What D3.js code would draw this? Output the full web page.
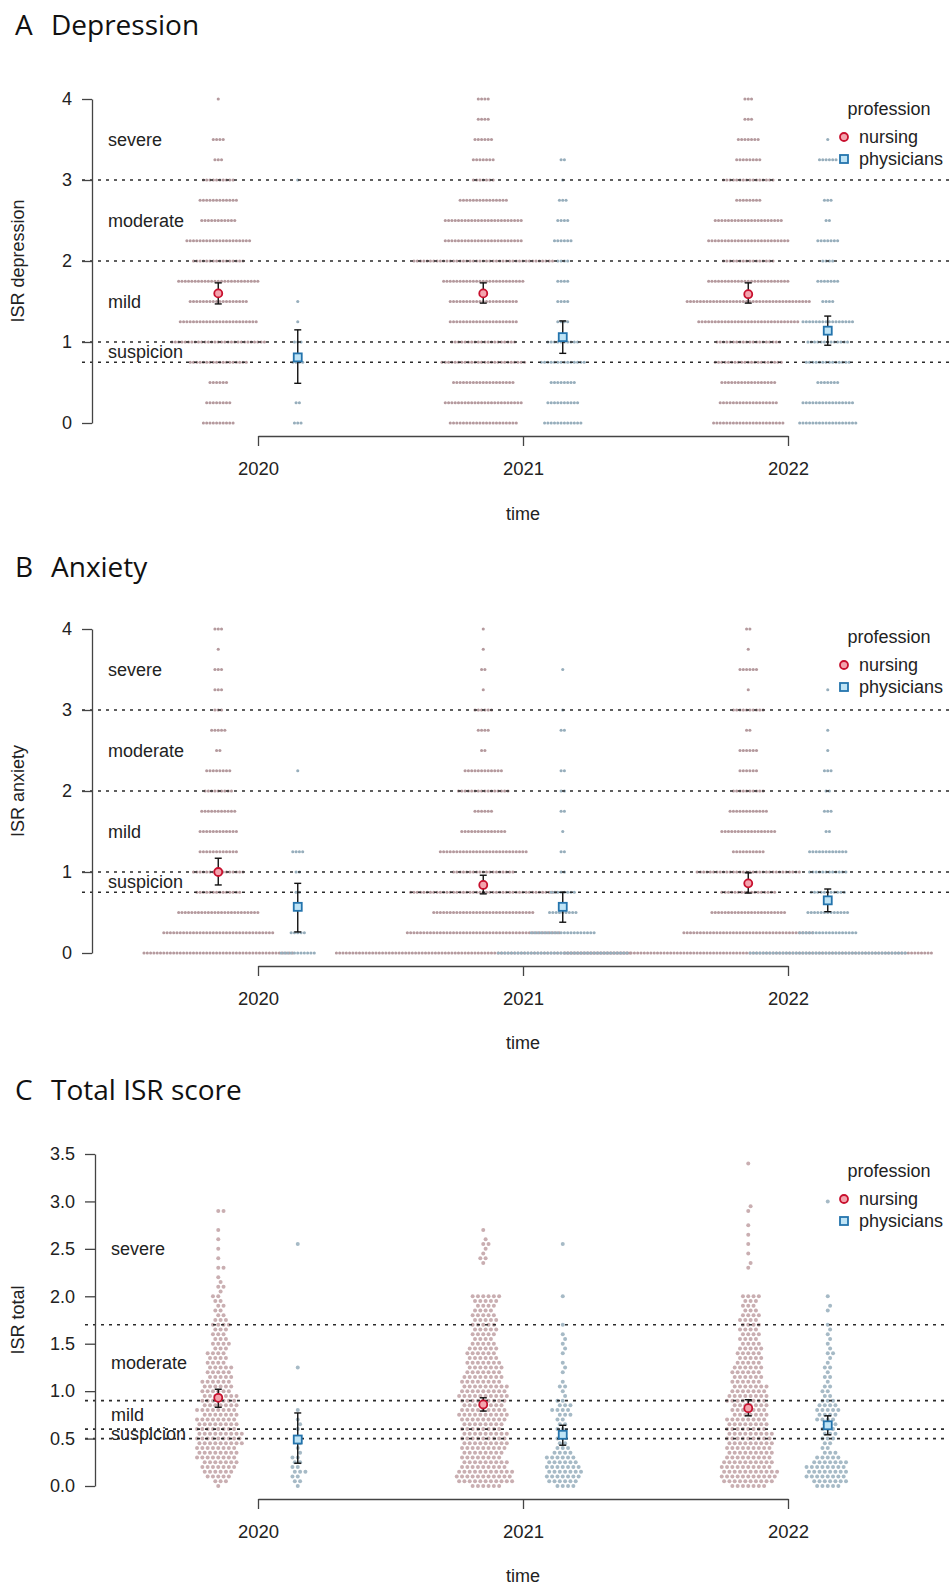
<!DOCTYPE html>
<html>
<head>
<meta charset="utf-8">
<script src="https://cdn.jsdelivr.net/npm/d3@7"></script>
<style>
  body { margin: 0; background: #fff; }
  svg { display: block; }
</style>
</head>
<body>
<div id="chart"></div>
<script>
// ---- categories ----
const years = [2020, 2021, 2022];
const professions = ['nursing', 'physicians'];
// item scores (depression / anxiety) come in quarter steps
const itemLevels = [0, 0.25, 0.5, 0.75, 1, 1.25, 1.5, 1.75, 2, 2.25, 2.5, 2.75, 3, 3.25, 3.5, 3.75, 4];

// ---- A depression: number of people per score level ----
const depNursing2020 = [10, 8, 6, 18, 29, 24, 18, 25, 16, 20, 11, 12, 10, 3, 4, 0, 1];
const depNursing2021 = [21, 24, 19, 26, 20, 21, 21, 25, 43, 24, 24, 15, 7, 7, 6, 4, 4];
const depNursing2022 = [22, 18, 17, 21, 20, 31, 38, 25, 16, 25, 21, 8, 16, 8, 7, 3, 3];
const depPhys2020 = [3, 2, 0, 4, 3, 1, 1, 0, 0, 0, 0, 0, 1, 0, 0, 0, 0];
const depPhys2021 = [12, 10, 8, 14, 10, 4, 4, 4, 4, 6, 4, 3, 1, 2, 0, 0, 0];
const depPhys2022 = [18, 16, 7, 14, 13, 16, 4, 7, 4, 7, 2, 3, 0, 6, 1, 0, 0];
const depNursingMean = [1.6, 1.6, 1.59], depNursingLo = [1.47, 1.48, 1.48], depNursingHi = [1.73, 1.73, 1.73];
const depPhysMean = [0.81, 1.06, 1.14], depPhysLo = [0.49, 0.86, 0.96], depPhysHi = [1.15, 1.26, 1.32];

// ---- B anxiety ----
const anxNursing2020 = [46, 34, 25, 14, 16, 12, 12, 11, 9, 8, 2, 5, 3, 3, 3, 1, 3];
const anxNursing2021 = [90, 47, 31, 45, 19, 27, 14, 6, 16, 12, 2, 4, 6, 1, 2, 1, 1];
const anxNursing2022 = [112, 40, 23, 17, 32, 10, 17, 12, 10, 6, 6, 2, 10, 1, 6, 1, 2];
const anxPhys2020 = [11, 5, 0, 2, 2, 4, 0, 0, 0, 1, 0, 0, 0, 0, 0, 0, 0];
const anxPhys2021 = [40, 20, 9, 8, 2, 2, 1, 2, 2, 2, 0, 2, 1, 0, 1, 0, 0];
const anxPhys2022 = [48, 18, 13, 11, 12, 12, 2, 3, 2, 3, 1, 1, 0, 1, 0, 0, 0];
const anxNursingMean = [1.0, 0.84, 0.86], anxNursingLo = [0.84, 0.73, 0.74], anxNursingHi = [1.17, 0.96, 0.99];
const anxPhysMean = [0.57, 0.57, 0.65], anxPhysLo = [0.26, 0.38, 0.51], anxPhysHi = [0.86, 0.75, 0.79];

// ---- C total ISR: counts in 0.05-wide bins starting at 0 ----
const totNursing2020 = [1,3,5,6,7,7,8,8,8,9, 9,9,8,8,8,7,8,7,7,7, 6,6,6,5,5,5,4,4,4,3, 4,3,3,3,4,3,2,2,2,2, 2,1,2,1,1,0,2,0,1,0, 1,0,1,0,1,0,0,0,2];
const totNursing2021 = [6,11,11,11,9,9,8,8,9,9, 9,9,8,8,9,10,9,8,9,10, 9,9,8,8,7,7,7,6,6,6, 5,4,5,5,5,5,5,4,4,5, 6,0,0,0,0,0,0,1,2,1, 1,2,1,0,1];
const totNursing2022 = [7,10,11,11,10,10,9,9,9,9, 9,9,8,8,8,7,7,7,8,8, 7,7,6,6,6,6,5,5,5,5, 4,4,4,4,4,4,4,3,3,3, 4,0,0,0,0,0,1,1,0,1, 0,1,0,1,0,1,0,0,1,1, 0,0,0,0,0,0,0,0,1];
const totPhys2020 = [1,2,2,3,2,2,2,1,1,1, 1,0,1,1,1,0,1,0,0,0, 0,0,0,0,0,1,0,0,0,0, 0,0,0,0,0,0,0,0,0,0, 0,0,0,0,0,0,0,0,0,0, 0,1];
const totPhys2021 = [4,6,7,7,7,6,6,4,3,2, 2,2,2,2,2,3,4,3,2,1, 1,2,1,0,1,1,1,0,1,1, 1,1,1,0,1,0,0,0,0,0, 1,0,0,0,0,0,0,0,0,0, 0,1];
const totPhys2022 = [5,7,8,8,8,7,5,3,2,2, 3,3,3,3,4,4,5,4,3,2, 2,2,1,2,1,2,1,1,2,1, 1,1,1,1,1,0,0,1,1,0, 1,0,0,0,0,0,0,0,0,0, 0,0,0,0,0,0,0,0,0,0, 1];
const totBinWidth = 0.05;
const totNursingMean = [0.93, 0.86, 0.82], totNursingLo = [0.83, 0.79, 0.74], totNursingHi = [1.02, 0.93, 0.91];
const totPhysMean = [0.49, 0.54, 0.64], totPhysLo = [0.24, 0.43, 0.54], totPhysHi = [0.77, 0.64, 0.74];

// ---- cut-offs and their labels ----
const itemCuts = [0.75, 1, 2, 3];
const totCuts = [0.5, 0.6, 0.9, 1.7];
const severityNames = ['suspicion', 'mild', 'moderate', 'severe'];
const itemNameAt = [0.875, 1.5, 2.5, 3.5];
const totNameAt = [0.55, 0.75, 1.3, 2.5];
const itemTicks = [0, 1, 2, 3, 4];
const totTicks = [0, 0.5, 1, 1.5, 2, 2.5, 3, 3.5];

const width = 949, height = 1587;
const FONT = '"Liberation Sans", Arial, Helvetica, sans-serif';
const FS = '18px';
// row dots (A, B) and swarm dots (C)
const rowColor = { nursing: '#b59a9e', physicians: '#97aebc' };
const swarmColor = { nursing: '#c9aeb1', physicians: '#a6bac6' };

const x = d3.scaleLinear().domain([2020, 2022]).range([258, 788]);
const shift = { nursing: -0.15, physicians: 0.15 };

const svg = d3.select('#chart').append('svg')
  .attr('width', width)
  .attr('height', height)
  .style('font-family', FONT);

svg.append('rect').attr('width', width).attr('height', height).attr('fill', '#fff');

const panels = [
  {
    letter: 'A', title: 'Depression', ylab: 'ISR depression',
    y: d3.scaleLinear().domain([0, 4]).range([423, 99]),
    axisX: 92, xAxisY: 436, titleY: 35, timeY: 520, legendY: 109,
    ticks: itemTicks, fmt: d3.format('d'), cuts: itemCuts, nameAt: itemNameAt,
    nursing: [depNursing2020, depNursing2021, depNursing2022],
    physicians: [depPhys2020, depPhys2021, depPhys2022],
    stats: {
      nursing: [depNursingMean, depNursingLo, depNursingHi],
      physicians: [depPhysMean, depPhysLo, depPhysHi]
    },
    discrete: true
  },
  {
    letter: 'B', title: 'Anxiety', ylab: 'ISR anxiety',
    y: d3.scaleLinear().domain([0, 4]).range([953, 629]),
    axisX: 92, xAxisY: 966, titleY: 577, timeY: 1049, legendY: 637,
    ticks: itemTicks, fmt: d3.format('d'), cuts: itemCuts, nameAt: itemNameAt,
    nursing: [anxNursing2020, anxNursing2021, anxNursing2022],
    physicians: [anxPhys2020, anxPhys2021, anxPhys2022],
    stats: {
      nursing: [anxNursingMean, anxNursingLo, anxNursingHi],
      physicians: [anxPhysMean, anxPhysLo, anxPhysHi]
    },
    discrete: true
  },
  {
    letter: 'C', title: 'Total ISR score', ylab: 'ISR total',
    y: d3.scaleLinear().domain([0, 3.5]).range([1486, 1154]),
    axisX: 95, xAxisY: 1499, titleY: 1100, timeY: 1582, legendY: 1171,
    ticks: totTicks, fmt: d3.format('.1f'), cuts: totCuts, nameAt: totNameAt,
    nursing: [totNursing2020, totNursing2021, totNursing2022],
    physicians: [totPhys2020, totPhys2021, totPhys2022],
    stats: {
      nursing: [totNursingMean, totNursingLo, totNursingHi],
      physicians: [totPhysMean, totPhysLo, totPhysHi]
    },
    discrete: false
  }
];

// rows of dots for quarter-step scores
function rowDots(counts, spacing) {
  const pts = [];
  counts.forEach((n, i) => {
    for (let k = 0; k < n; k++) pts.push({ v: itemLevels[i], dx: (k - (n - 1) / 2) * spacing });
  });
  return pts;
}

// simple beeswarm for the binned total scores
function swarmDots(counts, y, d) {
  const pts = [];
  counts.forEach((n, i) => {
    for (let k = 0; k < n; k++) pts.push({ v: i * totBinWidth, py: y(i * totBinWidth) });
  });
  pts.sort((a, b) => b.py - a.py);
  const placed = [];
  pts.forEach(p => {
    const near = placed.filter(q => Math.abs(q.py - p.py) < d);
    const cands = [0];
    near.forEach(q => {
      const h = Math.sqrt(d * d - (q.py - p.py) ** 2);
      cands.push(q.dx + h, q.dx - h);
    });
    cands.sort((a, b) => Math.abs(a) - Math.abs(b));
    for (const c of cands) {
      if (near.every(q => (q.dx - c) ** 2 + (q.py - p.py) ** 2 >= d * d - 1e-6)) { p.dx = c; break; }
    }
    placed.push(p);
  });
  return placed;
}

function marker(sel, prof, cx, cy) {
  if (prof === 'nursing') {
    sel.append('circle').attr('cx', cx).attr('cy', cy).attr('r', 4)
      .attr('fill', '#f3a4ae').attr('stroke', '#c8102e').attr('stroke-width', 1.8);
  } else {
    sel.append('rect').attr('x', cx - 4).attr('y', cy - 4).attr('width', 8).attr('height', 8)
      .attr('fill', '#bfe4f6').attr('stroke', '#2474ad').attr('stroke-width', 1.8);
  }
}

panels.forEach(p => {
  const g = svg.append('g');
  const y = p.y;

  // title
  const t = g.append('text').attr('y', p.titleY)
    .style('font-family', '"Open Sans", "Noto Sans", sans-serif')
    .style('font-size', '28px').attr('fill', '#111');
  t.append('tspan').attr('x', 15).text(p.letter);
  t.append('tspan').attr('x', 51).text(p.title);

  // dots: all nursing first, physicians on top
  professions.forEach(prof => {
    years.forEach((yr, i) => {
      const cx = x(yr + shift[prof]);
      const pts = p.discrete ? rowDots(p[prof][i], 3.3) : swarmDots(p[prof][i], y, 5.3);
      g.append('g').selectAll('circle')
        .data(pts)
        .enter().append('circle')
        .attr('cx', d => cx + d.dx)
        .attr('cy', d => y(d.v))
        .attr('r', p.discrete ? 1.55 : 2)
        .attr('fill', p.discrete ? rowColor[prof] : swarmColor[prof]);
    });
  });

  // cut-off lines
  g.selectAll('line.cut')
    .data(p.cuts)
    .enter().append('line')
    .attr('class', 'cut')
    .attr('x1', p.axisX - 10).attr('x2', width)
    .attr('y1', d => y(d)).attr('y2', d => y(d))
    .attr('stroke', '#2b2b2b').attr('stroke-width', 1.7)
    .attr('stroke-dasharray', '3,5');

  // severity names
  g.selectAll('text.sev')
    .data(severityNames)
    .enter().append('text')
    .attr('class', 'sev')
    .attr('x', p.axisX + 16)
    .attr('y', (d, i) => y(p.nameAt[i]))
    .attr('dy', '0.35em')
    .style('font-size', FS)
    .attr('fill', '#222')
    .text(d => d);

  // y axis
  const ya = g.append('g')
    .attr('transform', `translate(${p.axisX},0)`)
    .call(d3.axisLeft(y).tickValues(p.ticks).tickFormat(p.fmt).tickSize(10).tickSizeOuter(0).tickPadding(10));
  ya.select('.domain').attr('stroke', '#444').attr('stroke-width', 1.3);
  ya.selectAll('.tick line').attr('stroke', '#444').attr('stroke-width', 1.3);
  ya.selectAll('.tick text').style('font-size', FS).style('font-family', FONT).attr('fill', '#222');

  g.append('text')
    .attr('transform', `translate(24,${(y.range()[0] + y.range()[1]) / 2}) rotate(-90)`)
    .attr('text-anchor', 'middle')
    .style('font-size', FS)
    .attr('fill', '#222')
    .text(p.ylab);

  // x axis
  const xa = g.append('g')
    .attr('transform', `translate(0,${p.xAxisY})`)
    .call(d3.axisBottom(x).tickValues(years).tickFormat(d3.format('d')).tickSize(10).tickSizeOuter(0).tickPadding(16));
  xa.select('.domain').attr('stroke', '#444').attr('stroke-width', 1.3);
  xa.selectAll('.tick line').attr('stroke', '#444').attr('stroke-width', 1.3);
  xa.selectAll('.tick text').style('font-size', '18.5px').style('font-family', FONT).attr('fill', '#222');

  g.append('text')
    .attr('x', x(2021)).attr('y', p.timeY)
    .attr('text-anchor', 'middle')
    .style('font-size', FS)
    .attr('fill', '#222')
    .text('time');

  // means with confidence intervals
  professions.forEach(prof => {
    const [mean, lo, hi] = p.stats[prof];
    years.forEach((yr, i) => {
      const cx = x(yr + shift[prof]);
      const eb = g.append('g').attr('stroke', '#111').attr('stroke-width', 1.4);
      eb.append('line').attr('x1', cx).attr('x2', cx).attr('y1', y(lo[i])).attr('y2', y(hi[i]));
      eb.append('line').attr('x1', cx - 3.5).attr('x2', cx + 3.5).attr('y1', y(lo[i])).attr('y2', y(lo[i]));
      eb.append('line').attr('x1', cx - 3.5).attr('x2', cx + 3.5).attr('y1', y(hi[i])).attr('y2', y(hi[i]));
      marker(g, prof, cx, y(mean[i]));
    });
  });

  // legend
  const lg = g.append('g');
  lg.append('text')
    .attr('x', 889).attr('y', p.legendY).attr('dy', '0.35em')
    .attr('text-anchor', 'middle')
    .style('font-size', FS).attr('fill', '#222')
    .text('profession');
  professions.forEach((prof, i) => {
    const ly = p.legendY + 28 + i * 22;
    marker(lg, prof, 844, ly);
    lg.append('text')
      .attr('x', 859).attr('y', ly).attr('dy', '0.35em')
      .style('font-size', FS).attr('fill', '#222')
      .text(prof);
  });
});
</script>
</body>
</html>
